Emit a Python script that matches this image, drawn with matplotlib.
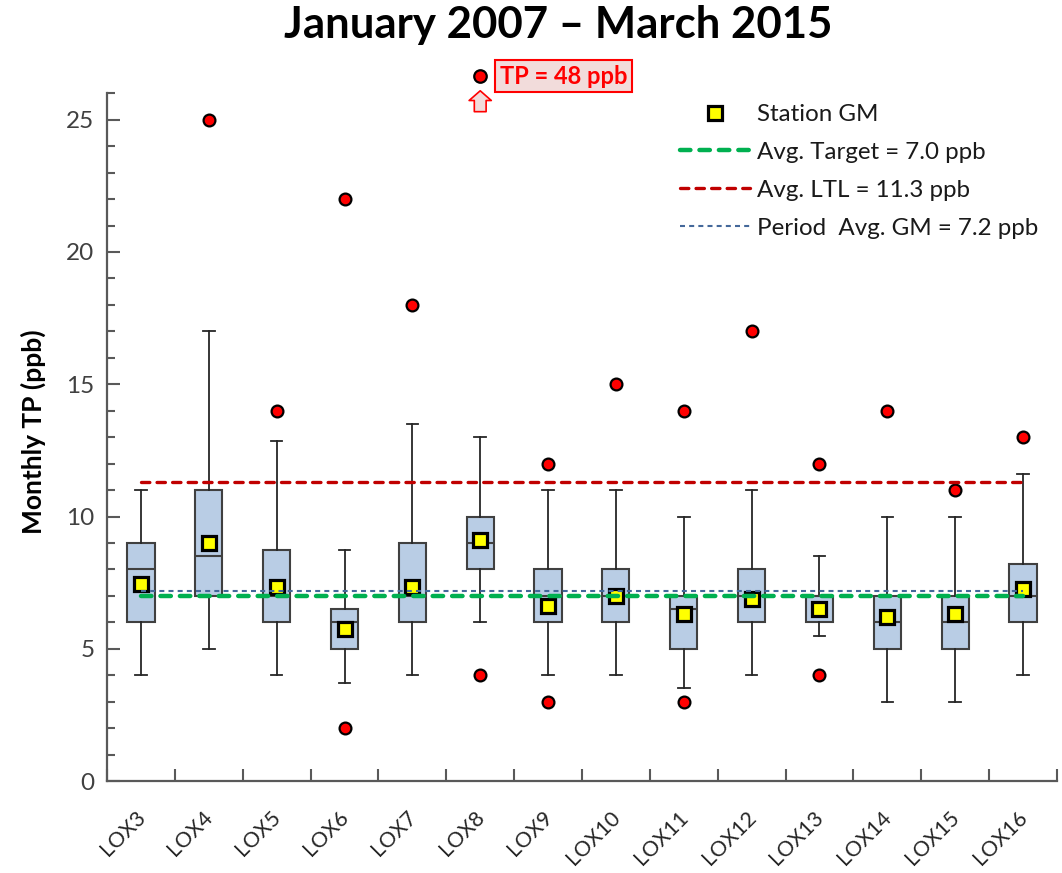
import matplotlib
matplotlib.use('Agg')
import matplotlib.pyplot as plt
import matplotlib.transforms as mtransforms
from matplotlib.patches import FancyArrowPatch
import numpy as np

plt.rcParams['font.family'] = ['Lato', 'DejaVu Sans']
plt.rcParams['lines.scale_dashes'] = False

# ---------------- data ----------------
stations = ['LOX3', 'LOX4', 'LOX5', 'LOX6', 'LOX7', 'LOX8', 'LOX9',
            'LOX10', 'LOX11', 'LOX12', 'LOX13', 'LOX14', 'LOX15', 'LOX16']
q1 = [6, 7, 6, 5, 6, 8, 6, 6, 5, 6, 6, 5, 5, 6]
med = [8, 8.5, 7, 6, 7, 9, 7, 7, 6.5, 7, 7, 6, 6, 7]
q3 = [9, 11, 8.75, 6.5, 9, 10, 8, 8, 7, 8, 7, 7, 7, 8.2]
whislo = [4, 5, 4, 3.7, 4, 6, 4, 4, 3.5, 4, 5.5, 3, 3, 4]
whishi = [11, 17, 12.85, 8.75, 13.5, 13, 11, 11, 10, 11, 8.5, 10, 10, 11.6]
station_gm = [7.45, 9.0, 7.33, 5.73, 7.33, 9.11, 6.61, 6.98, 6.32, 6.87,
              6.49, 6.2, 6.3, 7.27]
outliers = [[], [25], [14], [22, 2], [18], [48, 4], [12, 3], [15], [14, 3],
            [17], [12, 4], [14], [11], [13]]
avg_target = 7.0
avg_ltl = 11.3
period_gm = 7.2
y_max = 26
offscale_y = 26.65  # where values above the axis are drawn

# ---------------- figure ----------------
fig = plt.figure(figsize=(10.62, 8.73), dpi=100)
ax = fig.add_axes([107 / 1062, 1 - 781 / 873, 950 / 1062, (781 - 93.3) / 873])

pos = np.arange(len(stations))

stats = [dict(med=m, q1=a, q3=b, whislo=lo, whishi=hi, fliers=[])
         for m, a, b, lo, hi in zip(med, q1, q3, whislo, whishi)]
ax.bxp(stats, positions=pos, widths=0.4, patch_artist=True, showfliers=False,
       capwidths=0.17,
       boxprops=dict(facecolor='#B9CDE5', edgecolor='#404040', linewidth=1.5),
       medianprops=dict(color='#404040', linewidth=1.5),
       whiskerprops=dict(color='#262626', linewidth=1.3),
       capprops=dict(color='#262626', linewidth=1.3), zorder=2)

# outliers
for p, outs in zip(pos, outliers):
    for v in outs:
        if v <= y_max:
            ax.plot(p, v, 'o', ms=8.5, mfc='#FF0000', mec='black', mew=1.6,
                    zorder=4)
        else:
            ax.plot(p, offscale_y, 'o', ms=9, mfc='#FF0000', mec='black',
                    mew=1.6, zorder=4, clip_on=False)
            arr = FancyArrowPatch((p, 25.2), (p, 26.2),
                                  arrowstyle='simple,head_length=7,head_width=16,tail_width=8.5',
                                  mutation_scale=1, facecolor='#F2DCDB',
                                  edgecolor='#FF0000', linewidth=1.2,
                                  clip_on=False, zorder=5)
            ax.add_patch(arr)
            ax.annotate(f'TP = {v} ppb', xy=(p, offscale_y),
                        xytext=(14, 0), textcoords='offset points',
                        ha='left', va='center', fontsize=17,
                        fontweight='bold', color='#FF0000',
                        bbox=dict(boxstyle='square,pad=0.2',
                                  facecolor='#F2DCDB', edgecolor='#FF0000',
                                  linewidth=1.5),
                        annotation_clip=False, zorder=5)

# station GM
ax.plot(pos, station_gm, 's', ms=10.5, mfc='#FFFF00', mec='black', mew=2.3,
        linestyle='none', zorder=3, label='Station GM')

# reference lines
ax.plot([pos[0], pos[-1]], [avg_target, avg_target], color='#00B050',
        lw=3.2, dashes=(7.5, 6.5), dash_capstyle='round', zorder=6,
        label='Avg. Target = 7.0 ppb')
ax.plot([pos[0], pos[-1]], [avg_ltl, avg_ltl], color='#C00000',
        lw=2.4, dashes=(6, 5.2), dash_capstyle='round', zorder=6,
        label='Avg. LTL = 11.3 ppb')
ax.plot([pos[0], pos[-1]], [period_gm, period_gm], color='#44689A',
        lw=1.5, dashes=(3.6, 3), zorder=6,
        label='Period  Avg. GM = 7.2 ppb')

# axes styling
ax.set_xlim(-0.5, len(stations) - 0.5)
ax.set_ylim(0, y_max)
for s in ['top', 'right']:
    ax.spines[s].set_visible(False)
for s in ['left', 'bottom']:
    ax.spines[s].set_color('#595959')
    ax.spines[s].set_linewidth(1.6)

ax.set_yticks(np.arange(0, 26, 5))
ax.set_yticks(np.arange(0, y_max + 1, 1), minor=True)
ax.tick_params(axis='y', which='major', direction='in', length=9, width=1.5,
               color='#595959', labelsize=17.5, labelcolor='#404040', pad=9)
ax.tick_params(axis='y', which='minor', direction='in', length=6, width=1.5,
               color='#595959')

ax.set_xticks(np.arange(-0.5, len(stations), 1))
ax.set_xticklabels([])
ax.set_xticks(pos, minor=True)
ax.set_xticklabels(stations, minor=True, rotation=45, ha='right', va='top',
                   rotation_mode='anchor')
ax.tick_params(axis='x', which='major', direction='in', length=9, width=1.5,
               color='#595959')
ax.tick_params(axis='x', which='minor', length=0, labelsize=15.5,
               labelcolor='#262626', pad=19)
offset = mtransforms.ScaledTranslation(-6 / 100, 0, fig.dpi_scale_trans)
for lab in ax.get_xticklabels(minor=True):
    lab.set_transform(lab.get_transform() + offset)

fig.text(33 / 1062, 1 - 432 / 873, 'Monthly TP (ppb)', rotation=90,
         ha='center', va='center', fontsize=19, fontweight='bold',
         color='black')
fig.text(558 / 1062, 1 - 25 / 873, 'January 2007 \u2013 March 2015',
         ha='center', va='center', fontsize=31.5, fontweight='bold',
         color='black')

leg = ax.legend(loc='upper left', bbox_to_anchor=(680 / 1062, 1 - 104 / 873),
                bbox_transform=fig.transFigure, frameon=False, fontsize=17.4,
                handlelength=2.9, handletextpad=0.3, labelspacing=0.7,
                borderpad=0, borderaxespad=0)
for t in leg.get_texts():
    t.set_color('#1a1a1a')

fig.savefig('out.png', dpi=100)
